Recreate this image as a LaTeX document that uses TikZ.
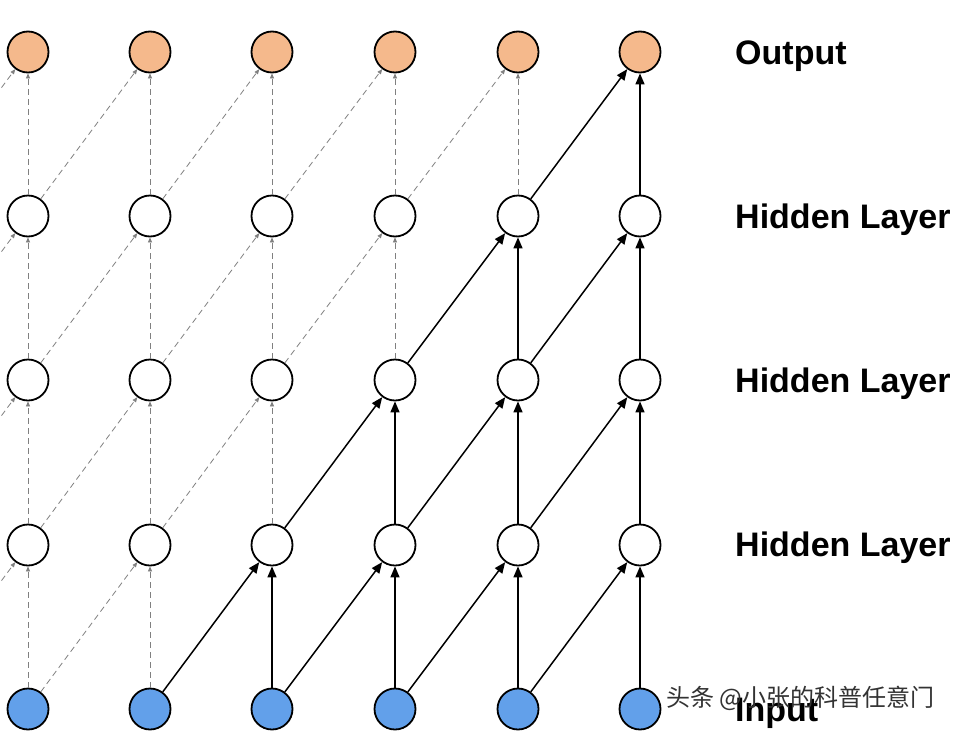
\documentclass[tikz,border=0pt]{standalone}
\usepackage{fontspec}
\setmainfont{Liberation Sans}
\newfontfamily\cjk{Noto Sans CJK SC}
\usetikzlibrary{arrows.meta}
\begin{document}
\begin{tikzpicture}[x=1pt,y=-1pt,
  nd/.style={circle,draw=black,line width=1.8pt,minimum size=41pt,inner sep=0pt},
  hid/.style={nd,fill=white},
  solid edge/.style={-{Triangle[length=11pt,width=9pt]},line width=1.5pt,black},
  dash edge/.style={-{Triangle[length=5pt,width=4pt]},line width=0.8pt,gray,dash pattern=on 6pt off 4pt},
  lab/.style={font=\bfseries\fontsize{34}{34}\selectfont,anchor=west,inner sep=0pt}]
\useasboundingbox (0,0) rectangle (961,731);
\clip (0,0) rectangle (961,731);
\fill[white] (0,0) rectangle (961,731);
\definecolor{inblue}{RGB}{98,160,234}
\definecolor{outor}{RGB}{245,185,140}
\foreach \c/\x in {0/28,1/150,2/272,3/395,4/518,5/640}{
  \node[nd,fill=inblue] (n0\c) at (\x,709) {};
  \node[hid] (n1\c) at (\x,545) {};
  \node[hid] (n2\c) at (\x,380) {};
  \node[hid] (n3\c) at (\x,216) {};
  \node[nd,fill=outor] (n4\c) at (\x,52) {};
}
\foreach \r/\y in {1/545,2/380,3/216,4/52}{
  \coordinate (L\r) at (-94,\y+164);
}
\foreach \r [evaluate=\r as \p using int(\r-1)] in {1,2,3,4}{
  \draw[dash edge] (L\r) -- (n\r0);
  \foreach \c [evaluate=\c as \q using int(\c-1)] in {0,...,5}{
    \ifnum\c>\r
      \draw[solid edge] (n\p\c) -- (n\r\c);
      \draw[solid edge] (n\p\q) -- (n\r\c);
    \else
      \draw[dash edge] (n\p\c) -- (n\r\c);
      \ifnum\c>0 \draw[dash edge] (n\p\q) -- (n\r\c);\fi
    \fi
  }
}
\node[lab] (tout) at (735,56) {Output};
\node[lab] (th3) at (735,220) {Hidden Layer};
\node[lab] (th2) at (735,384) {Hidden Layer};
\node[lab] (th1) at (735,548) {Hidden Layer};
\node[lab] (tin) at (735,713) {Input};
\node[anchor=west,inner sep=0pt,text=black!80,font=\cjk\fontsize{24}{24}\selectfont] (wm) at (666,698) {头条 @小张的科普任意门};
\end{tikzpicture}
\end{document}
